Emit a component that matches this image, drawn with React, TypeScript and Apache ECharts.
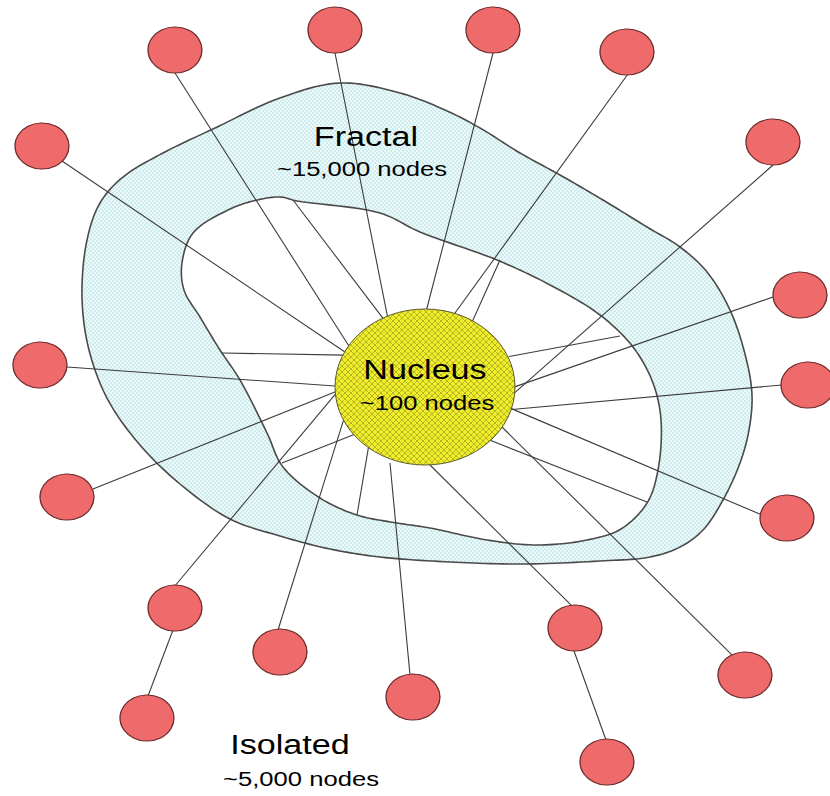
import React, { useEffect, useRef } from "react";
import * as echarts from "echarts";

const W = 830;
const H = 796;

// Peripheral ("isolated") nodes
const redNodes: [number, number][] = [
  [175, 50], [335, 30], [493, 30], [627, 52],
  [42, 146], [773, 142], [800, 295], [40, 365],
  [808, 385], [67, 497], [787, 518], [175, 608],
  [280, 652], [575, 628], [745, 675], [413, 697],
  [147, 718], [607, 762],
];

// nucleus: centre x, centre y, radius x, radius y
const nucleus: [number, number, number, number] = [425, 387, 90, 78];

// spokes: [attachment on node rim, attachment on nucleus rim]
const spokes: [[number, number], [number, number]][] = [
  [[175, 73], [347, 343]],
  [[335, 53], [387, 314]],
  [[493, 53], [427, 308]],
  [[628, 74], [455, 313]],
  [[62, 161], [342, 350]],
  [[773, 165], [520, 388]],
  [[773, 297], [520, 385]],
  [[67, 367], [334, 386]],
  [[782, 385], [517, 409]],
  [[93, 489], [335, 392]],
  [[762, 515], [517, 411]],
  [[174, 587], [338, 391]],
  [[278, 630], [342, 425]],
  [[430, 465], [572, 606]],
  [[497, 422], [733, 656]],
  [[390, 463], [410, 675]],
];

// node-to-node links
const chains: [[number, number], [number, number]][] = [
  [[173, 630], [148, 696]],
  [[574, 651], [606, 740]],
];

// short links from the fractal's inner rim to the nucleus
const innerLinks: [[number, number], [number, number]][] = [
  [[293, 200], [382, 317]],
  [[500, 260], [473, 320]],
  [[222, 353], [336, 355]],
  [[620, 336], [517, 355]],
  [[647, 502], [497, 443]],
  [[282, 463], [353, 435]],
  [[357, 515], [368, 450]],
];

const outerRing: [number, number][] = [
  [340, 83], [400, 93], [445, 110], [480, 128], [520, 153], [560, 175],
  [603, 200], [647, 227], [680, 247], [707, 272], [730, 310], [746, 358],
  [752, 395], [749, 430], [740, 463], [723, 500], [703, 530], [680, 547],
  [650, 557], [600, 561], [520, 564], [450, 562], [380, 557], [330, 549],
  [280, 536], [230, 519], [180, 484], [140, 445], [108, 400], [89, 350],
  [82, 297], [87, 240], [100, 203], [123, 177], [163, 153], [213, 129],
  [280, 98],
];

const innerRing: [number, number][] = [
  [280, 197], [297, 201], [380, 213], [420, 232], [497, 260], [552, 286],
  [600, 315], [633, 347], [653, 383], [661, 420], [658, 470], [647, 503],
  [621, 529], [587, 540], [537, 545], [487, 540], [430, 528], [397, 523],
  [357, 515], [320, 498], [283, 467], [267, 433], [240, 380], [220, 350],
  [200, 317], [184, 290], [182, 263], [193, 233], [228, 210], [253, 201],
];

const labelTexts = ["Fractal", "~15,000 nodes", "Nucleus", "~100 nodes", "Isolated", "~5,000 nodes"];
const labelPos: [number, number][] = [
  [366, 137], [362, 169], [425, 370], [427, 403], [290, 745], [301, 779],
];
const labelSizes = [28, 21, 28, 21, 28, 21];

function extend(a: [number, number], b: [number, number], d: number): [number, number] {
  const dx = b[0] - a[0];
  const dy = b[1] - a[1];
  const l = Math.hypot(dx, dy) || 1;
  return [b[0] + (dx / l) * d, b[1] + (dy / l) * d];
}

// centripetal Catmull-Rom through a closed list of pixel points
function closedSpline(pts: number[][], steps = 12): number[][] {
  const n = pts.length;
  const out: number[][] = [];
  const lerp = (p: number[], q: number[], a: number, b: number, t: number) => {
    const d = b - a || 1e-6;
    return [((b - t) / d) * p[0] + ((t - a) / d) * q[0], ((b - t) / d) * p[1] + ((t - a) / d) * q[1]];
  };
  for (let i = 0; i < n; i++) {
    const p0 = pts[(i - 1 + n) % n];
    const p1 = pts[i];
    const p2 = pts[(i + 1) % n];
    const p3 = pts[(i + 2) % n];
    const t0 = 0;
    const t1 = t0 + Math.sqrt(Math.hypot(p1[0] - p0[0], p1[1] - p0[1])) + 1e-6;
    const t2 = t1 + Math.sqrt(Math.hypot(p2[0] - p1[0], p2[1] - p1[1])) + 1e-6;
    const t3 = t2 + Math.sqrt(Math.hypot(p3[0] - p2[0], p3[1] - p2[1])) + 1e-6;
    for (let s = 0; s < steps; s++) {
      const t = t1 + ((t2 - t1) * s) / steps;
      const a1 = lerp(p0, p1, t0, t1, t);
      const a2 = lerp(p1, p2, t1, t2, t);
      const a3 = lerp(p2, p3, t2, t3, t);
      const b1 = lerp(a1, a2, t0, t2, t);
      const b2 = lerp(a2, a3, t1, t3, t);
      out.push(lerp(b1, b2, t1, t2, t));
    }
  }
  return out;
}

function makePattern(kind: "hatch" | "dots", fallback: string): any {
  try {
    const c = document.createElement("canvas");
    const ctx = c.getContext("2d");
    if (!ctx) return fallback;
    if (kind === "hatch") {
      c.width = 6;
      c.height = 6;
      ctx.fillStyle = "#f0ee2a";
      ctx.fillRect(0, 0, 6, 6);
      ctx.strokeStyle = "rgba(125,125,25,0.5)";
      ctx.lineWidth = 1;
      ctx.beginPath();
      ctx.moveTo(0, 0); ctx.lineTo(6, 6);
      ctx.moveTo(6, 0); ctx.lineTo(0, 6);
      ctx.stroke();
      return { image: c.toDataURL(), repeat: "repeat", imageWidth: 6, imageHeight: 6 };
    }
    c.width = 4;
    c.height = 4;
    ctx.fillStyle = "#eef9f9";
    ctx.fillRect(0, 0, 4, 4);
    ctx.fillStyle = "#cdecee";
    ctx.fillRect(0, 0, 2, 2);
    ctx.fillRect(2, 2, 2, 2);
    return { image: c.toDataURL(), repeat: "repeat", imageWidth: 4, imageHeight: 4 };
  } catch (e) {
    return fallback;
  }
}

export default function App() {
  const ref = useRef<HTMLDivElement>(null);
  useEffect(() => {
    if (!ref.current) return;
    const chart = echarts.init(ref.current, null, { renderer: "svg" });
    const hatch = makePattern("hatch", "#e6e236");
    const dots = makePattern("dots", "#dcf2f3");

    const lineData: any[] = [];
    spokes.forEach(([a, b]) => {
      lineData.push({ coords: [a, extend(a, b, 8)] });
    });
    chains.forEach(([a, b]) => {
      lineData.push({ coords: [a, b] });
    });
    innerLinks.forEach(([a, b]) => {
      lineData.push({ coords: [a, extend(a, b, 8)] });
    });

    const option: any = {
      animation: false,
      backgroundColor: "#ffffff",
      grid: { left: 0, right: 0, top: 0, bottom: 0, containLabel: false },
      xAxis: { type: "value", min: 0, max: W, show: false },
      yAxis: { type: "value", min: 0, max: H, inverse: true, show: false },
      series: [
        {
          type: "custom",
          z: 1,
          silent: true,
          clip: false,
          data: [[0, 0]],
          renderItem: (_params: any, api: any) => {
            const outer = closedSpline(outerRing.map((p) => api.coord(p)));
            const inner = closedSpline(innerRing.map((p) => api.coord(p)));
            return {
              type: "group",
              children: [
                {
                  type: "polygon",
                  shape: { points: outer },
                  style: { fill: dots, stroke: "#4a4a4a", lineWidth: 1.6 },
                },
                {
                  type: "polygon",
                  shape: { points: inner },
                  style: { fill: "#ffffff", stroke: "#4a4a4a", lineWidth: 1.6 },
                },
              ],
            };
          },
        },
        {
          type: "lines",
          coordinateSystem: "cartesian2d",
          z: 2,
          silent: true,
          symbol: ["none", "none"],
          lineStyle: { color: "#3c3c3c", width: 1.1, opacity: 1 },
          data: lineData,
        },
        {
          type: "custom",
          z: 3,
          silent: true,
          clip: false,
          data: [nucleus],
          renderItem: (_params: any, api: any) => {
            const c = api.coord([api.value(0), api.value(1)]);
            const s = api.size([api.value(2), api.value(3)]);
            return {
              type: "ellipse",
              shape: { cx: c[0], cy: c[1], rx: s[0], ry: s[1] },
              style: { fill: hatch, stroke: "#5a5a30", lineWidth: 1 },
            };
          },
        },
        {
          type: "scatter",
          z: 4,
          silent: true,
          symbol: "circle",
          symbolSize: [54, 46],
          itemStyle: {
            color: "#ef6a6a",
            borderColor: "#6e2b2b",
            borderWidth: 1.2,
            opacity: 1,
          },
          data: redNodes,
        },
      ],
      graphic: labelTexts.map((t, i) => ({
        type: "text",
        x: labelPos[i][0],
        y: labelPos[i][1],
        scaleX: 1.22,
        z: 10,
        silent: true,
        style: {
          text: t,
          x: 0,
          y: 0,
          fill: "#000000",
          font: `${labelSizes[i]}px "Liberation Sans", Arial, sans-serif`,
          textAlign: "center",
          textVerticalAlign: "middle",
        },
      })),
    };
    chart.setOption(option);
    return () => chart.dispose();
  }, []);
  return (
    <div
      ref={ref}
      style={{ position: "absolute", left: 0, top: 0, width: W, height: H }}
    />
  );
}
